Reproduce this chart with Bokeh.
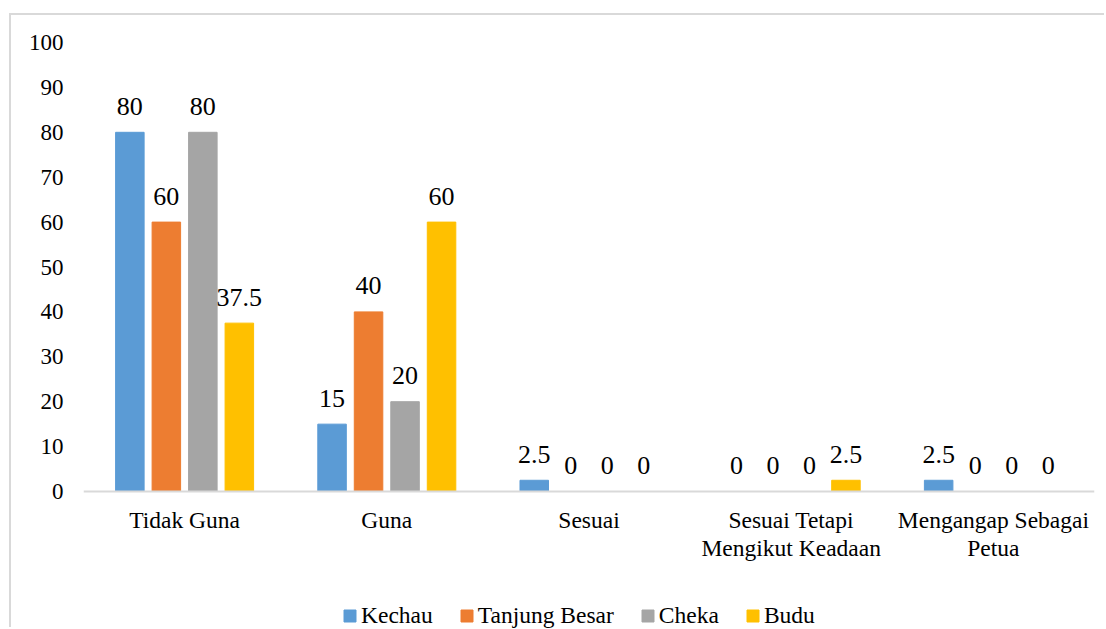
from bokeh.plotting import figure
from bokeh.models import Range1d, FixedTicker, Legend, LegendItem, ColumnDataSource, Span
from bokeh.core.properties import value
from bokeh.embed import file_html
from bokeh.resources import INLINE

# Survey responses (%) per district
categories = ["Tidak Guna", "Guna", "Sesuai", "Sesuai Tetapi\nMengikut Keadaan", "Mengangap Sebagai\nPetua"]
series_names = ["Kechau", "Tanjung Besar", "Cheka", "Budu"]
kechau = [80, 15, 2.5, 0, 2.5]
tanjung_besar = [60, 40, 0, 0, 0]
cheka = [80, 20, 0, 0, 0]
budu = [37.5, 60, 0, 2.5, 0]
y_ticks = [0, 10, 20, 30, 40, 50, 60, 70, 80, 90, 100]

series_values = [kechau, tanjung_besar, cheka, budu]
colors = ["#5B9BD5", "#ED7D31", "#A5A5A5", "#FFC000"]
FONT = "Liberation Serif"

# the frame runs down to the canvas bottom so that the category names and
# the legend sit inside it; the value axis only labels 0..100
px_per_unit = 449 / 100
p = figure(
    width=1095, height=614,
    x_range=Range1d(0, len(categories)), y_range=Range1d(-138 / px_per_unit, 100),
    output_backend="svg", toolbar_location=None, x_axis_location=None,
    min_border_left=72, min_border_right=12, min_border_top=27, min_border_bottom=0,
)
p.styles = {
    "margin-left": "9px", "margin-top": "13px",
    "border-left": "2px solid #d9d9d9", "border-top": "2px solid #d9d9d9",
}
p.outline_line_color = None
p.xgrid.grid_line_color = None
p.ygrid.grid_line_color = None

bar_w = 0.141
step = 0.1805
centers = [i + 0.5 for i in range(len(categories))]

items = []
for k, (name, vals, col) in enumerate(zip(series_names, series_values, colors)):
    off = (k - 1.5) * step
    src = ColumnDataSource(dict(
        x=[c + off for c in centers],
        top=vals,
        lbl=[f"{v:g}" for v in vals],
    ))
    r = p.vbar(x="x", top="top", bottom=0, width=bar_w, source=src,
               fill_color=col, line_color=col)
    p.text(x="x", y="top", text="lbl", source=src,
           text_font=value(FONT), text_font_size="26px", text_color="black",
           text_align="center", text_baseline="alphabetic", y_offset=-26)
    items.append(LegendItem(label=name, renderers=[r]))

# category baseline
p.add_layout(Span(location=0, dimension="width", line_color="#d9d9d9", line_width=2))

# category names under the baseline
cat_src = ColumnDataSource(dict(x=centers, y=[0] * len(centers), name=categories))
p.text(x="x", y="y", text="name", source=cat_src,
       text_font=value(FONT), text_font_size="23.5px", text_color="black",
       text_align="center", text_baseline="top", text_line_height=1.1, y_offset=15)

# value axis
p.yaxis.ticker = FixedTicker(ticks=y_ticks)
p.yaxis.axis_line_color = None
p.yaxis.major_tick_line_color = None
p.yaxis.minor_tick_line_color = None
p.yaxis.major_tick_out = 0
p.yaxis.major_label_standoff = 20
p.yaxis.major_label_text_font = FONT
p.yaxis.major_label_text_font_size = "23px"
p.yaxis.major_label_text_color = "black"

legend = Legend(items=items, orientation="horizontal", location=(259, 0))
legend.border_line_color = None
legend.background_fill_alpha = 0
legend.padding = 0
legend.margin = 0
legend.spacing = 26
legend.label_standoff = 4
legend.glyph_width = 15
legend.glyph_height = 15
legend.label_text_font = FONT
legend.label_text_font_size = "23.5px"
legend.label_text_color = "black"
p.add_layout(legend, "center")

open("out.html", "w").write(file_html(p, INLINE))
